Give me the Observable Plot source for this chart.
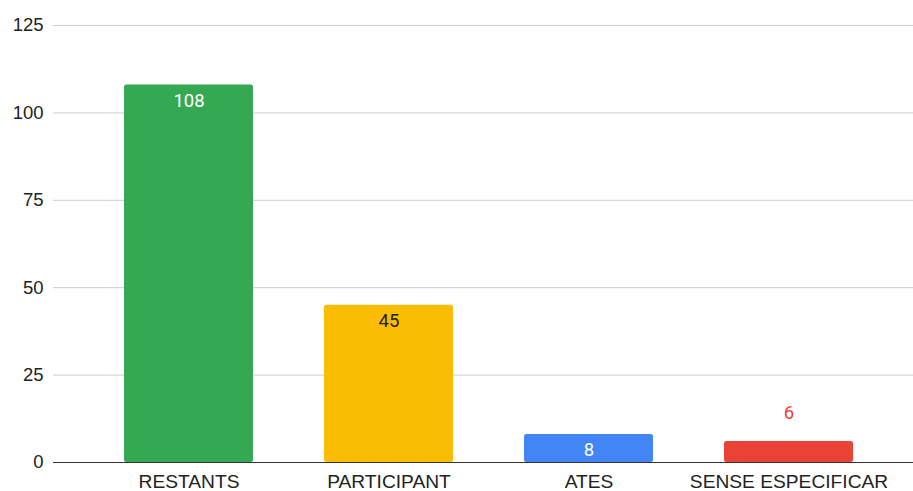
<!DOCTYPE html>
<html>
<head>
<meta charset="utf-8">
<script src="https://cdn.jsdelivr.net/npm/d3@7"></script>
<script src="https://cdn.jsdelivr.net/npm/@observablehq/plot@0.6"></script>
<style>
  html, body { margin: 0; padding: 0; background: #fff; }
  svg { display: block; }
</style>
</head>
<body>
<div id="chart"></div>
<script>
const categories = ["RESTANTS", "PARTICIPANT", "ATES", "SENSE ESPECIFICAR"];
const values = [108, 45, 8, 6];
const yTicks = [0, 25, 50, 75, 100, 125];

const barColors = ["#34a853", "#fbbc04", "#4285f4", "#ea4335"];
const labelColors = ["#ffffff", "#222222", "#ffffff", "#ea4335"];
const labelInside = [true, true, true, false];

const data = categories.map((c, i) => ({
  cat: c, value: values[i], fill: barColors[i], lc: labelColors[i], inside: labelInside[i]
}));

const FS = 18.5;
const FSX = 19.2;
const chart = Plot.plot({
  width: 913,
  height: 491,
  marginLeft: 53,
  marginRight: 0,
  marginTop: 25,
  marginBottom: 29,
  style: { fontFamily: "'Liberation Sans', Arial, sans-serif", fontSize: FS + "px", color: "#222", background: "#fff" },
  x: { domain: categories, range: [124, 853], paddingInner: 0.355, paddingOuter: 0, label: null },
  y: { domain: [0, 125], ticks: yTicks, label: null },
  marks: [
    Plot.ruleY(yTicks.filter(t => t > 0), { stroke: "#cccccc", strokeWidth: 1 }),
    Plot.axisY({ ticks: yTicks, tickSize: 0, tickPadding: 10, label: null, fontSize: FS }),
    Plot.axisX({ tickSize: 0, tickPadding: 11.5, label: null, fontSize: FSX }),
    Plot.barY(data, { x: "cat", y: "value", fill: d => d.fill, rx: 2.5 }),
    Plot.ruleY([0], { stroke: "#333333", strokeWidth: 1.2 }),
    Plot.text(data.filter(d => d.inside), { x: "cat", y: "value", text: d => String(d.value), fill: d => d.lc, dy: 16, fontSize: FS, fontFamily: "Roboto, Arial, sans-serif" }),
    Plot.text(data.filter(d => !d.inside), { x: "cat", y: "value", text: d => String(d.value), fill: d => d.lc, dy: -28, fontSize: FS, fontFamily: "Roboto, Arial, sans-serif" })
  ]
});
document.getElementById("chart").appendChild(chart);
</script>
</body>
</html>
